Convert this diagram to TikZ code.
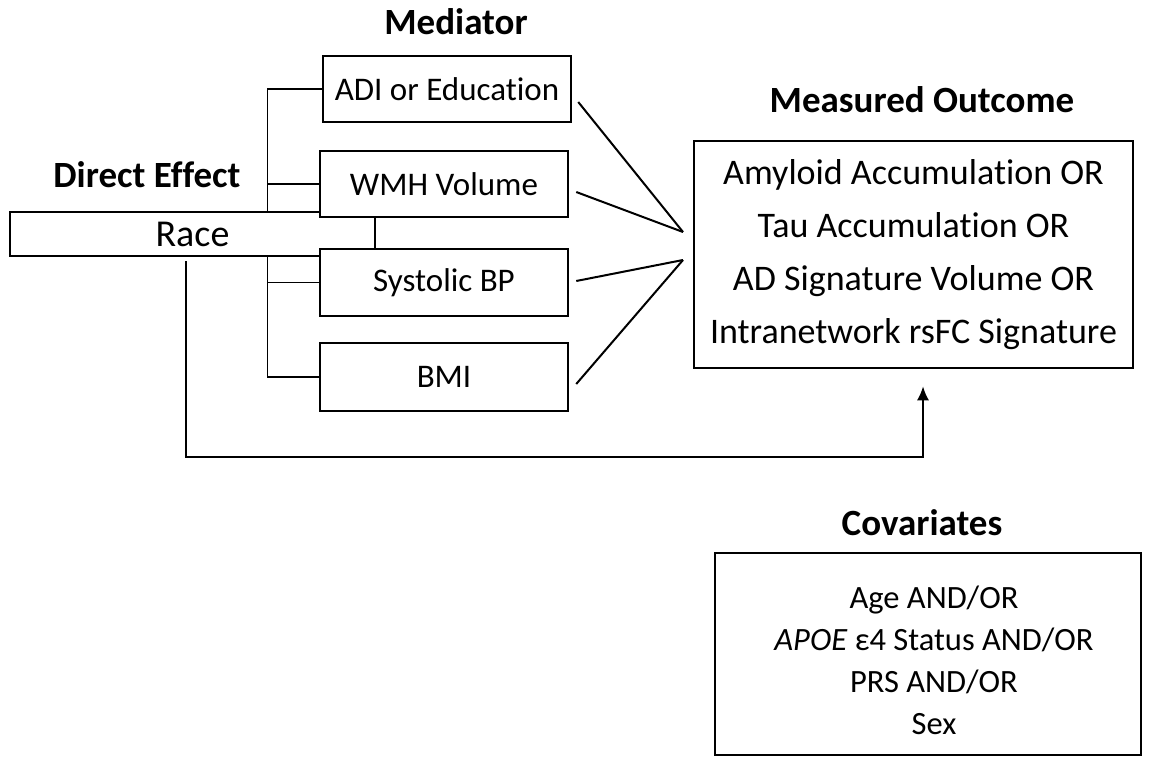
\documentclass[tikz,border=0pt]{standalone}
\usepackage{fontspec}
\setmainfont{Carlito}[Ligatures={NoCommon}]
\usetikzlibrary{arrows.meta,calc}
\tikzset{>=latex}
\tikzset{
	medbox/.style={draw,line width=2.5pt,fill=white,minimum width=248pt,minimum height=66pt,inner sep=0pt,font=\fontsize{33}{38}\selectfont},
	bigbox/.style={draw,line width=2.5pt,fill=white,align=center,inner sep=0pt},
	heading/.style={font=\fontsize{37}{42}\selectfont\bfseries},
	link/.style={line width=1.2pt},
	spoke/.style={line width=2pt}
}

\begin{document}
\begin{tikzpicture}[x=1pt,y=-1pt]
            \useasboundingbox (0,0) rectangle (1157,758);
            % titles
            \node[heading] (medtitle) at (456,22) {Mediator};
            \node[heading] (dirtitle) at (147,175) {Direct Effect};
            \node[heading] (outtitle) at (922,100) {Measured Outcome};
            \node[heading] (covtitle) at (922,523) {Covariates};
            % exposure, mediators drawn on top of it
            \node[draw,line width=2.5pt,fill=white,minimum width=365pt,minimum height=44pt,inner sep=0pt,font=\fontsize{38}{42}\selectfont] (race) at (192.5,234) {Race};
            \node[medbox] (adi) at (447,89) {ADI or Education};
            \node[medbox] (wmh) at (444,184) {WMH Volume};
            \node[medbox,minimum height=67pt] (sbp) at (444,282.5) {Systolic BP};
            \node[medbox,minimum height=68pt] (bmi) at (444,377) {BMI};
            \coordinate (tapup) at ($(race.north west)+(259,0)$);
            \coordinate (tapdown) at ($(race.south west)+(259,0)$);
            \draw[link] (adi.west) -| (tapup);
            \draw[link] (wmh.west) -- (wmh.west -| tapup);
            \draw[link] (tapdown) |- (bmi.west);
            \draw[link] (sbp.west) -- (sbp.west -| tapdown);
            % outcome and covariates
            \node[bigbox,minimum width=439pt,minimum height=227pt,font=\fontsize{36}{53}\selectfont] (outcome) at (913.5,254.5) {Amyloid Accumulation OR\\Tau Accumulation OR\\AD Signature Volume OR\\Intranetwork rsFC Signature};
            \node[bigbox,minimum width=426pt,minimum height=202pt] (cov) at (928,654) {};
            \node[align=center,inner sep=0pt,font=\fontsize{32.5}{42}\selectfont] (covtext) at ($(cov.center)+(6,6)$) {Age AND/OR\\\textit{APOE} ε4 Status AND/OR\\PRS AND/OR\\Sex};
            \coordinate (hubA) at (683,232);
            \coordinate (hubB) at (683,260);
            \draw[spoke] ($(adi.east)+(6,13)$) -- (hubA);
            \draw[spoke] ($(wmh.east)+(7,8)$) -- (hubA);
            \draw[spoke] ($(sbp.east)+(7,-1.5)$) -- (hubB);
            \draw[spoke] ($(bmi.east)+(7,7)$) -- (hubB);
            % direct path
            \draw[line width=2pt,-{Latex[length=14pt,width=12pt]}] ($(race.south)+(-6.5,4)$) -- ++(0,196) -| ($(outcome.south)+(9.5,17)$);
        \end{tikzpicture}
\end{document}
